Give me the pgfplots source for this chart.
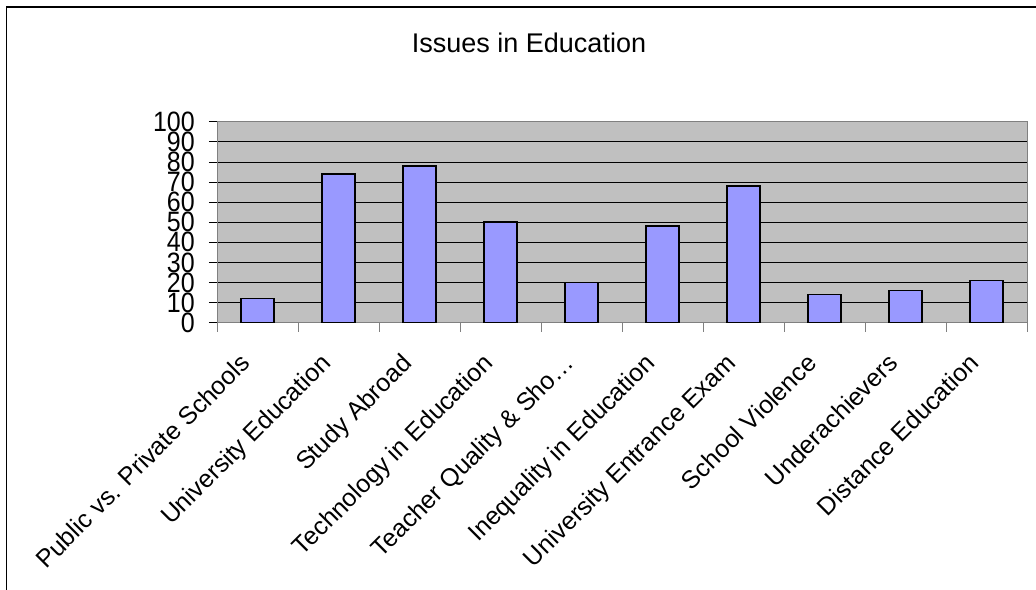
\documentclass[border=0pt]{standalone}
\usepackage{fontspec}
\setmainfont{Liberation Sans}
\usepackage{pgfplots}
\pgfplotsset{compat=1.18}
\definecolor{barfill}{HTML}{9999FF}
\definecolor{plotbg}{HTML}{C0C0C0}
\definecolor{axgray}{HTML}{808080}
\begin{document}
\begin{tikzpicture}
\useasboundingbox (0,0) rectangle (1036bp,-590bp);
\fill[white] (0,0) rectangle (1036bp,-590bp);
\draw[line width=1.4bp] (6.5bp,-590bp) -- (6.5bp,-6.8bp) -- (1036bp,-6.8bp);
\node[font=\fontsize{27bp}{30bp}\selectfont, anchor=base] at (529bp,-52bp) {Issues in Education};
\begin{axis}[
  at={(217bp,-322.7bp)}, anchor=south west,
  scale only axis, width=810bp, height=201bp,
  xmin=-0.5, xmax=9.5, ymin=0, ymax=100,
  axis background/.style={fill=plotbg},
  axis line style={draw=axgray, line width=1bp},
  ybar, bar width=33bp,
  ytick={0,10,...,100},
  xtick={0,...,9},
  xticklabels={Public vs. Private Schools, University Education, Study Abroad, Technology in Education, Teacher Quality \& Sho…, Inequality in Education, University Entrance Exam, School Violence, Underachievers, Distance Education},
  minor xtick={-0.5,0.5,...,9.5},
  major x tick style={draw=none},
  minor x tick style={draw=axgray, line width=1bp},
  minor tick length=9bp,
  major tick length=8bp,
  tick align=outside,
  xtick pos=bottom, ytick pos=left,
  y tick style={draw=black, line width=0.8bp},
  ymajorgrids, grid style={draw=black, line width=0.8bp},
  /pgf/number format/assume math mode=true,
  yticklabel style={font=\fontsize{25bp}{25bp}\selectfont, inner sep=0pt, xshift=-14bp, yscale=1.12},
  xticklabel style={font=\fontsize{25bp}{25bp}\selectfont, inner sep=0pt, xshift=-19bp, yshift=-21bp, rotate=45, anchor=north east},
]
\addplot[fill=barfill, draw=black, line width=1.5bp] coordinates {
(0,12) (1,74) (2,78) (3,50) (4,20) (5,48) (6,68) (7,14) (8,16) (9,21)};
\end{axis}
\end{tikzpicture}
\end{document}
